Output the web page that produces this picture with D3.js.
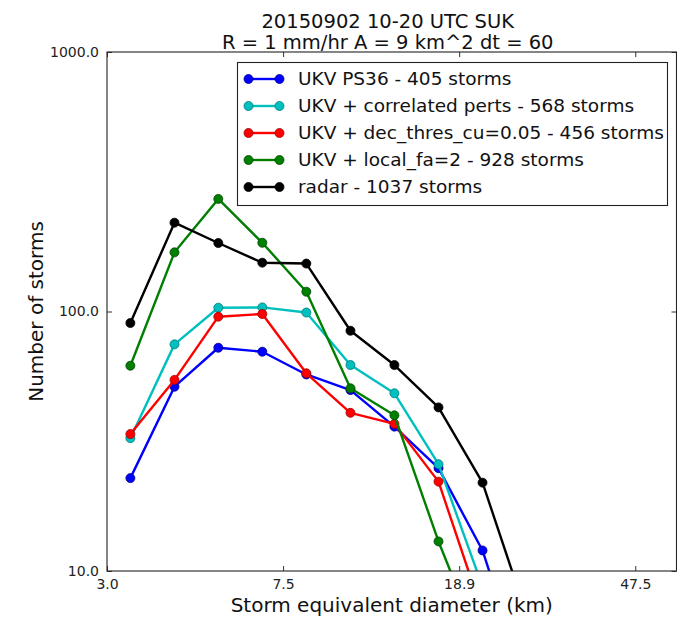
<!DOCTYPE html>
<html>
<head>
<meta charset="utf-8">
<script src="https://cdn.jsdelivr.net/npm/d3@7"></script>
<style>
  html, body { margin: 0; padding: 0; background: #fff; }
  svg { display: block; font-family: "DejaVu Sans", sans-serif; }
</style>
</head>
<body>
<svg id="chart" width="677" height="619"></svg>
<script>
// Storm size distribution: bin-centre diameters (km) and storm counts per bin
const diameters = [3.39, 4.27, 5.37, 6.76, 8.51, 10.72, 13.49, 16.99, 21.39, 26.93];

const ukvPs36      = [22.8, 51.3, 72.5, 70.0, 57.2, 49.8, 36.0, 24.9, 12.0, 3.6];
const corrPerts    = [32.5, 74.7, 103.4, 103.7, 99.1, 62.2, 48.4, 25.8, 8.7, 2.5];
const decThres     = [33.7, 54.5, 95.5, 97.8, 57.8, 40.7, 36.9, 22.1, 6.9, 2.0];
const localFa      = [61.8, 169.0, 271.5, 184.0, 119.2, 50.6, 39.8, 13.0, 4.9, 1.5];
const radar        = [90.3, 219.9, 183.6, 154.2, 153.0, 84.3, 62.2, 42.7, 21.9, 6.8];

const seriesNames  = [
  "UKV PS36 - 405 storms",
  "UKV + correlated perts - 568 storms",
  "UKV + dec_thres_cu=0.05 - 456 storms",
  "UKV + local_fa=2 - 928 storms",
  "radar - 1037 storms"
];
const seriesColors = ["#0000ff", "#00bfbf", "#ff0000", "#007f00", "#000000"];
const seriesEdges  = ["#00008a", "#007a7a", "#9a0000", "#004800", "#000000"];

const xTickValues = [3.0, 7.536, 18.93, 47.55];
const xTickLabels = ["3.0", "7.5", "18.9", "47.5"];
const yTickValues = [10, 100, 1000];

const titleLines = ["20150902 10-20 UTC SUK", "R = 1 mm/hr A = 9 km^2 dt = 60"];
const xLabel = "Storm equivalent diameter (km)";
const yLabel = "Number of storms";

// ---- layout ----
const plot = { left: 107, right: 676.5, top: 52, bottom: 571 };
const svg = d3.select("#chart");

const x = d3.scaleLog().domain([3.0, 59.0]).range([plot.left, plot.right]);
const y = d3.scaleLog().domain([10, 1000]).range([plot.bottom, plot.top]);

svg.append("defs").append("clipPath").attr("id", "plotClip")
  .append("rect")
  .attr("x", plot.left).attr("y", plot.top)
  .attr("width", plot.right - plot.left).attr("height", plot.bottom - plot.top);

// ---- series lines and markers ----
const allSeries = [ukvPs36, corrPerts, decThres, localFa, radar];
const line = d3.line().x((d, i) => x(diameters[i])).y(d => y(d));

const dataLayer = svg.append("g").attr("clip-path", "url(#plotClip)");
allSeries.forEach((vals, s) => {
  const g = dataLayer.append("g");
  g.append("path")
    .datum(vals)
    .attr("d", line)
    .attr("fill", "none")
    .attr("stroke", seriesColors[s])
    .attr("stroke-width", 2.4)
    .attr("stroke-linejoin", "round");
  g.selectAll("circle")
    .data(vals)
    .join("circle")
    .attr("cx", (d, i) => x(diameters[i]))
    .attr("cy", d => y(d))
    .attr("r", 4.5)
    .attr("fill", seriesColors[s])
    .attr("stroke", seriesEdges[s])
    .attr("stroke-width", 0.8);
});

// ---- axes (ticks point inward, on all four sides) ----
const tickColor = "#333";
const tickLen = 5;
const axisFont = 14;

const xBottom = d3.axisBottom(x).tickValues(xTickValues)
  .tickFormat((d, i) => xTickLabels[i]).tickSizeInner(-tickLen).tickSizeOuter(0).tickPadding(8);
const xTop = d3.axisTop(x).tickValues(xTickValues)
  .tickFormat("").tickSizeInner(-tickLen).tickSizeOuter(0);
const yLeft = d3.axisLeft(y).tickValues(yTickValues)
  .tickFormat(d3.format(".1f")).tickSizeInner(-tickLen).tickSizeOuter(0).tickPadding(8);
const yRight = d3.axisRight(y).tickValues(yTickValues)
  .tickFormat("").tickSizeInner(-tickLen).tickSizeOuter(0);

function styleAxis(g) {
  g.select(".domain").remove();
  g.selectAll("line").attr("stroke", tickColor).attr("stroke-width", 1);
  g.selectAll("text").attr("fill", "#222").attr("font-size", axisFont)
    .attr("font-family", "DejaVu Sans, sans-serif");
}

svg.append("g").attr("transform", `translate(0,${plot.bottom})`).call(xBottom).call(styleAxis);
svg.append("g").attr("transform", `translate(0,${plot.top})`).call(xTop).call(styleAxis);
svg.append("g").attr("transform", `translate(${plot.left},0)`).call(yLeft).call(styleAxis);
svg.append("g").attr("transform", `translate(${plot.right},0)`).call(yRight).call(styleAxis);

// frame
svg.append("rect")
  .attr("x", plot.left).attr("y", plot.top)
  .attr("width", plot.right - plot.left).attr("height", plot.bottom - plot.top)
  .attr("fill", "none").attr("stroke", "#222").attr("stroke-width", 1.1);

// ---- legend ----
const legend = svg.append("g");
const lg = { x: 237.5, y: 62.5, w: 430, h: 143, rowY: 79, rowH: 27 };
legend.append("rect")
  .attr("x", lg.x).attr("y", lg.y).attr("width", lg.w).attr("height", lg.h)
  .attr("fill", "#fff").attr("stroke", "#222").attr("stroke-width", 1.1);

seriesNames.forEach((name, s) => {
  const cy = lg.rowY + s * lg.rowH;
  const x0 = 248.5, x1 = 279.5;
  legend.append("line")
    .attr("x1", x0).attr("x2", x1).attr("y1", cy).attr("y2", cy)
    .attr("stroke", seriesColors[s]).attr("stroke-width", 2.4);
  [x0, x1].forEach(cx => legend.append("circle")
    .attr("cx", cx).attr("cy", cy).attr("r", 4.5)
    .attr("fill", seriesColors[s]).attr("stroke", seriesEdges[s]).attr("stroke-width", 0.8));
  legend.append("text")
    .attr("x", 298).attr("y", cy).attr("dy", "0.35em")
    .attr("font-size", 18.5).attr("fill", "#111")
    .text(name);
});

// ---- titles and axis labels ----
const cx = (plot.left + plot.right) / 2;
svg.append("text").attr("x", cx - 4).attr("y", 28).attr("text-anchor", "middle")
  .attr("font-size", 19.5).attr("fill", "#111").text(titleLines[0]);
svg.append("text").attr("x", cx - 4).attr("y", 49).attr("text-anchor", "middle")
  .attr("font-size", 19.5).attr("fill", "#111").text(titleLines[1]);

svg.append("text").attr("x", cx).attr("y", 612).attr("text-anchor", "middle")
  .attr("font-size", 20).attr("fill", "#111").text(xLabel);

svg.append("text")
  .attr("transform", `translate(43,${(plot.top + plot.bottom) / 2}) rotate(-90)`)
  .attr("text-anchor", "middle")
  .attr("font-size", 20).attr("fill", "#111").text(yLabel);
</script>
</body>
</html>
